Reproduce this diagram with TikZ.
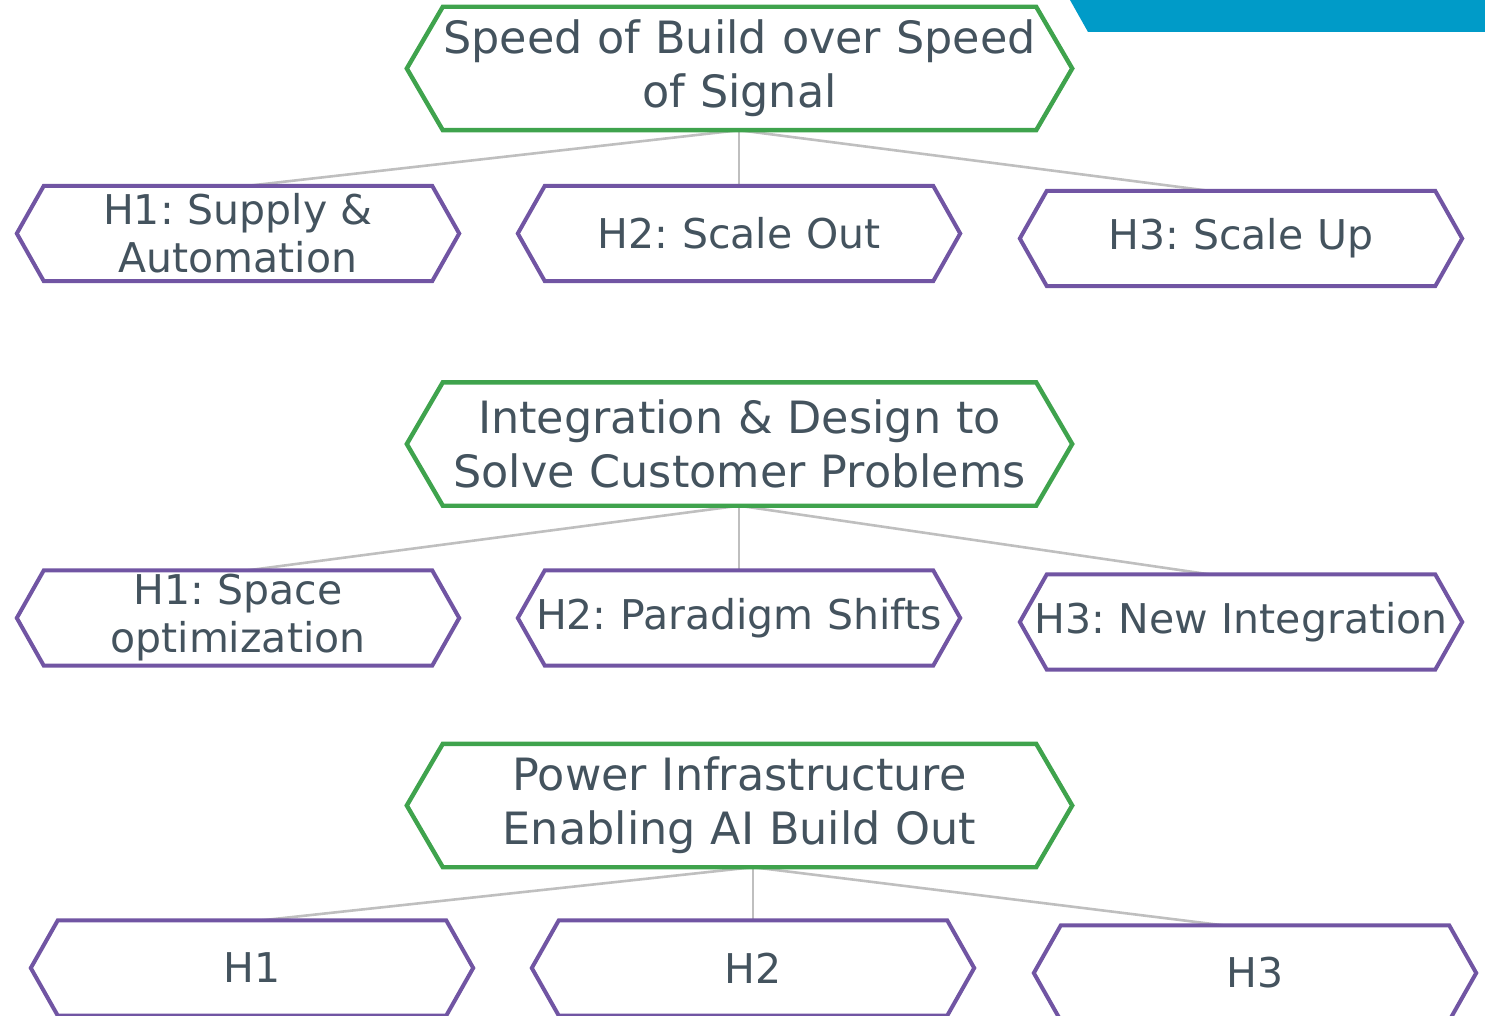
\documentclass[tikz,border=0pt]{standalone}
\usepackage{fontspec}
\setmainfont{DejaVu Sans}
\frenchspacing
\usetikzlibrary{calc}
\definecolor{txt}{HTML}{44535E}
\definecolor{grn}{HTML}{3FA34D}
\definecolor{prp}{HTML}{7155A3}
\definecolor{blu}{HTML}{009BC8}
\definecolor{lnk}{HTML}{BFBFBF}
\tikzset{
  gbox/.style={minimum width=665pt, minimum height=123pt, inner sep=0pt, text=txt,
    font=\fontsize{44.5pt}{54pt}\selectfont, align=center, text width=665pt},
  pbox/.style={minimum width=442pt, minimum height=95pt, inner sep=0pt, text=txt,
    font=\fontsize{41pt}{48pt}\selectfont, align=center, text width=442pt},
  gline/.style={draw=grn, line width=4.4pt, line join=miter},
  pline/.style={draw=prp, line width=4pt, line join=miter},
  link/.style={draw=lnk, line width=2.6pt}
}
\newcommand{\hexdraw}[3]{%
  \path[#3] (#1.west) -- ($(#1.north west)+(#2,0)$) -- ($(#1.north east)+(-#2,0)$)
    -- (#1.east) -- ($(#1.south east)+(-#2,0)$) -- ($(#1.south west)+(#2,0)$) -- cycle;}
\begin{document}
\begin{tikzpicture}[x=1pt,y=-1pt]
\useasboundingbox (0,0) rectangle (1485,1016);
\fill[blu] (1070,0) -- (1485,0) -- (1485,32) -- (1088,32) -- cycle;

% nodes
\node[gbox] (g1) at (739.5,68.5) {Speed of Build over Speed\\of Signal};
\node[gbox] (g2) at (739.5,444) {Integration \& Design to\\Solve Customer Problems};
\node[gbox] (g3) at (739.5,805.5) {Power Infrastructure\\Enabling AI Build Out};

\node[pbox] (p11) at (238,233.5) {H1: Supply \&\\Automation};
\node[pbox] (p12) at (739,233.5) {H2: Scale Out};
\node[pbox] (p13) at (1241,238.5) {H3: Scale Up};

\node[pbox] (p21) at (238,618) {H1: Space\\optimization};
\node[pbox] (p22) at (739,618) {H2: Paradigm Shifts};
\node[pbox] (p23) at (1241,622) {H3: New Integration};

\node[pbox] (p31) at (252,968) {H1};
\node[pbox] (p32) at (753,968) {H2};
\node[pbox] (p33) at (1255,973) {H3};

% connectors
\foreach \g/\a/\b/\c in {g1/p11/p12/p13, g2/p21/p22/p23, g3/p31/p32/p33}{
  \coordinate (o) at (\g.south -| \b.north);
  \draw[link] (o) -- ($(\a.north)+(10,0)$);
  \draw[link] (o) -- (\b.north);
  \draw[link] (o) -- ($(\c.north)+(-32,0)$);
}

% hexagon outlines
\hexdraw{g1}{36pt}{gline}
\hexdraw{g2}{36pt}{gline}
\hexdraw{g3}{36pt}{gline}
\foreach \p in {p11,p12,p13,p21,p22,p23,p31,p32,p33}{
  \hexdraw{\p}{27pt}{pline}
}
\end{tikzpicture}
\end{document}
